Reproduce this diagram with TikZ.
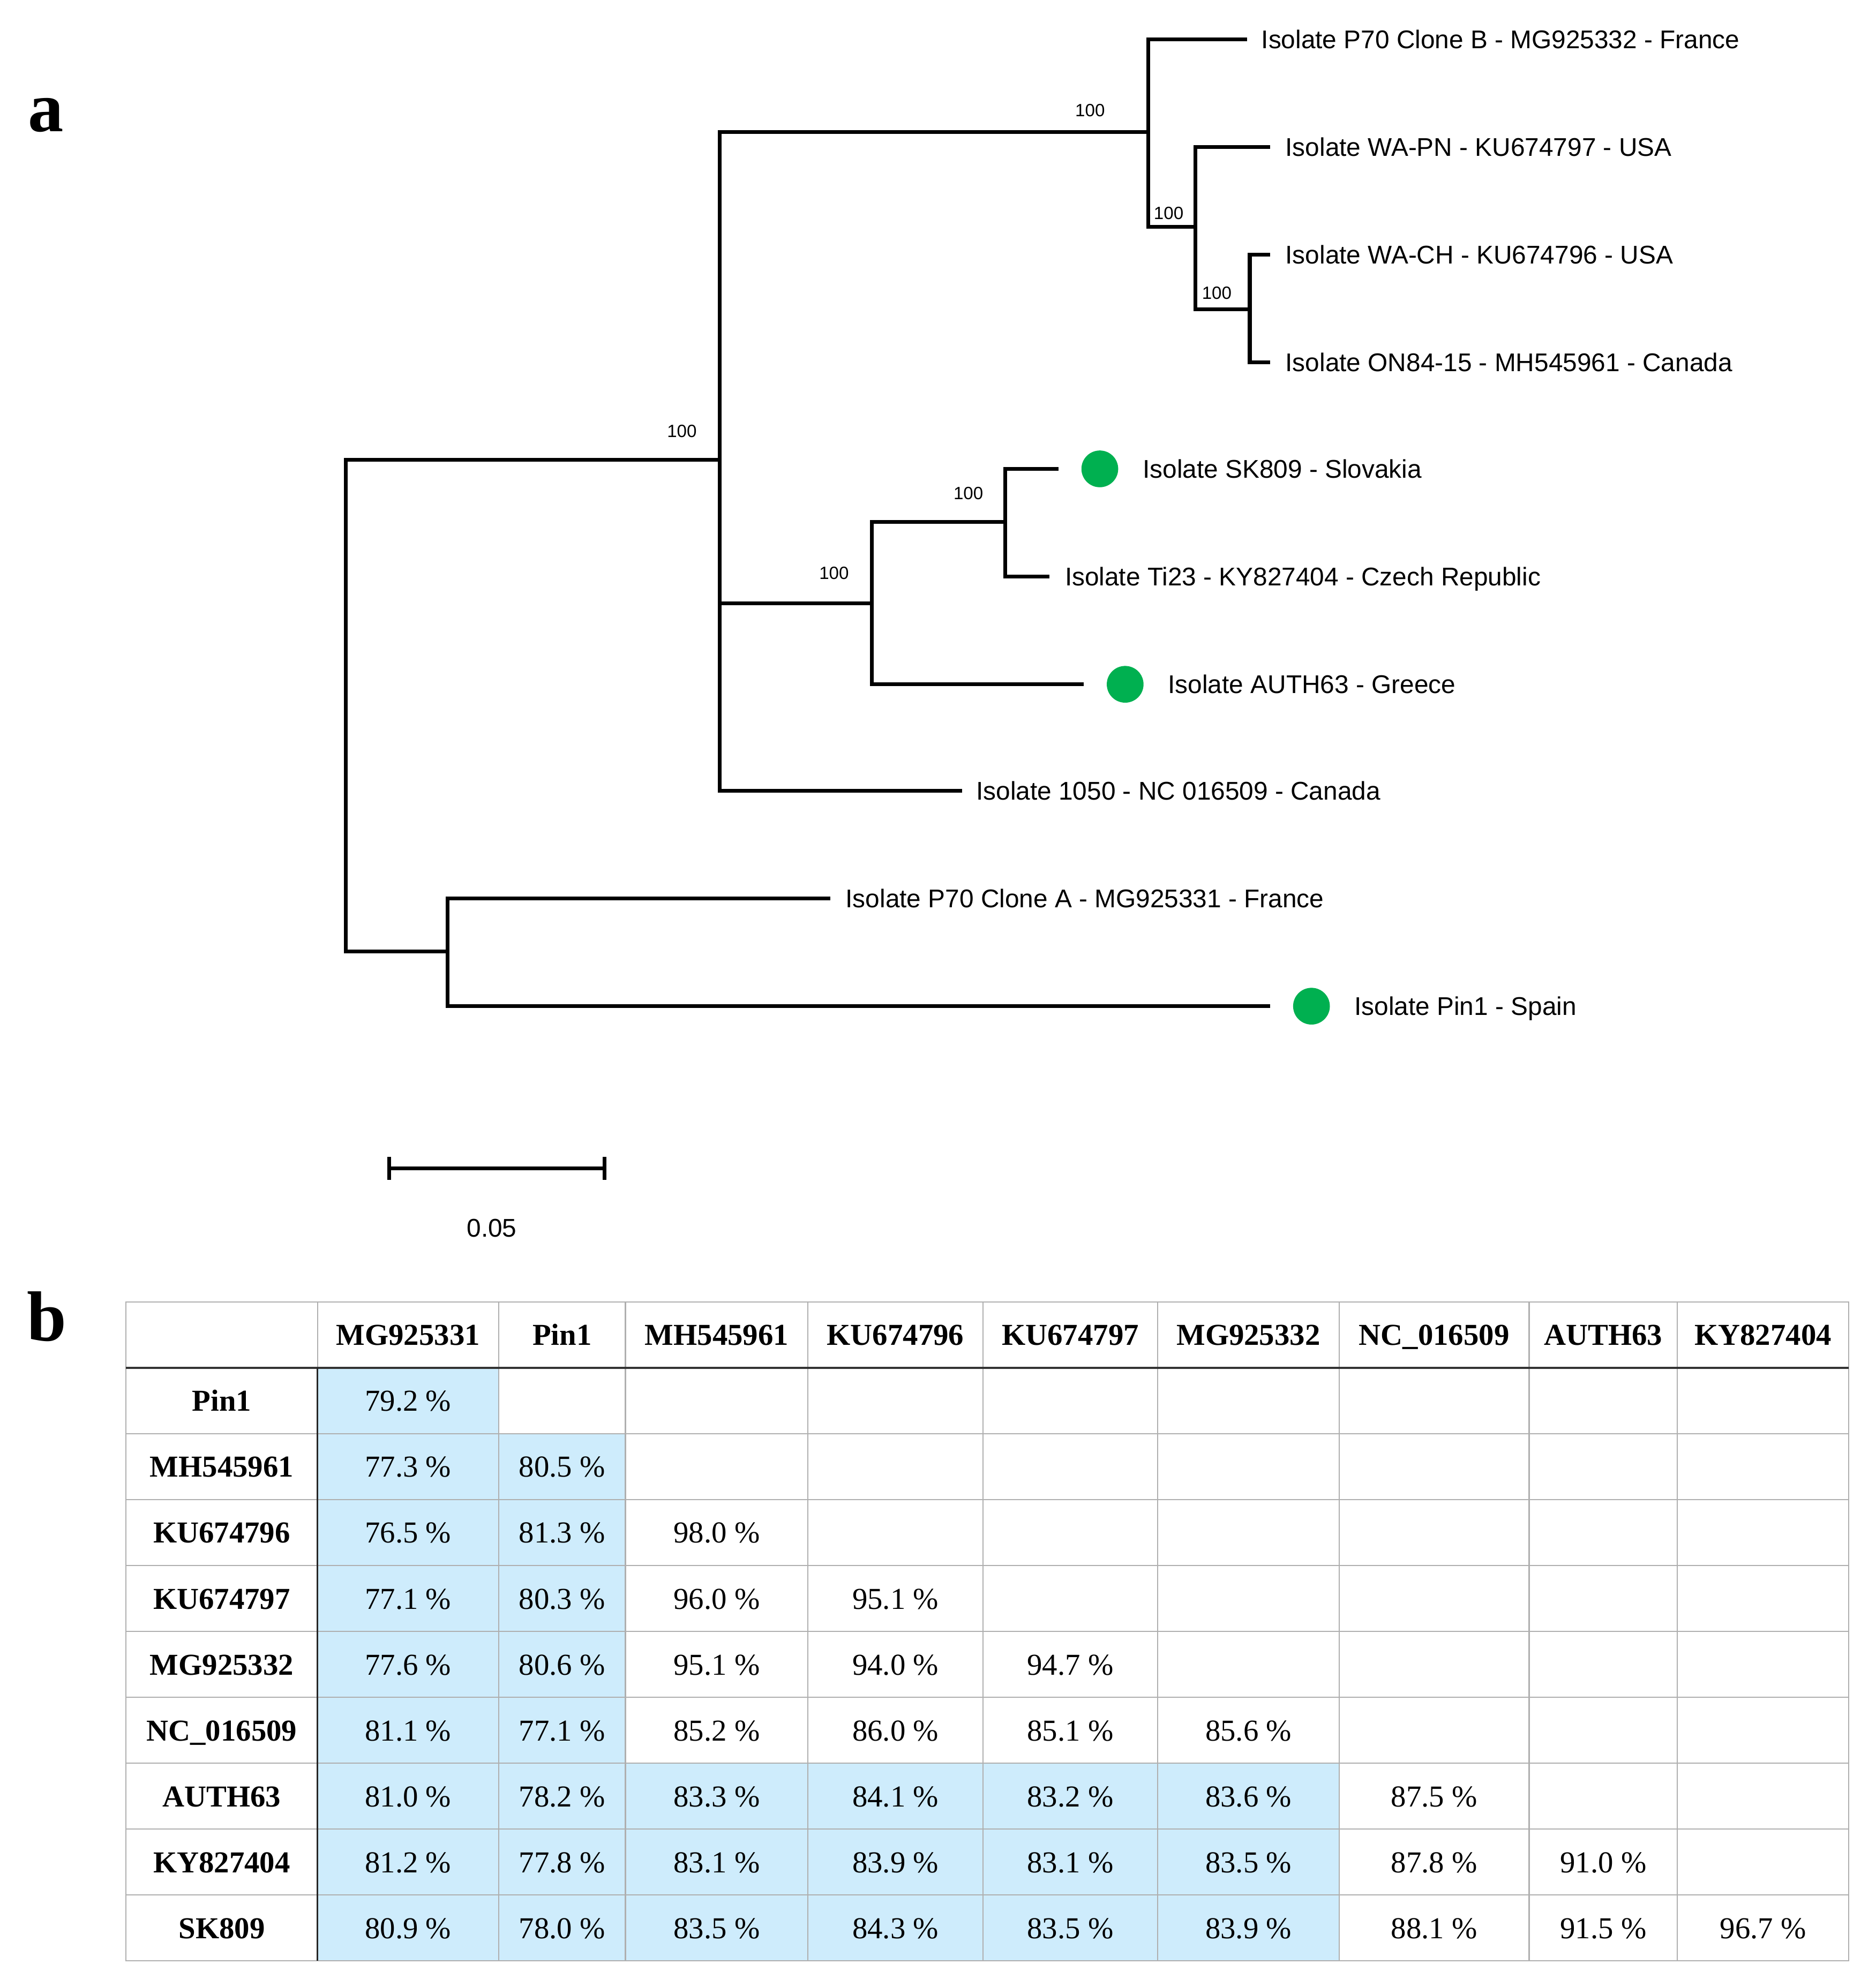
\documentclass[tikz,border=0pt]{standalone}
\usepackage{fontspec}
\setmainfont{Liberation Serif}
\newfontfamily\treefont{Liberation Sans}
\usetikzlibrary{positioning,matrix}
\definecolor{isoGreen}{RGB}{0,176,80}
\definecolor{cellBlue}{RGB}{206,236,252}
\definecolor{gridGray}{RGB}{175,175,175}

\begin{document}
\begin{tikzpicture}[x=1pt,y=-1pt,
	branch/.style={line width=3pt},
	leafLabel/.style={font=\treefont\fontsize{20.2}{24}\selectfont, inner sep=0pt, text height=14.4pt, text depth=0pt},
	bootLabel/.style={font=\treefont\fontsize{14}{16}\selectfont, inner sep=0pt, text height=10pt, text depth=0pt},
	isoDot/.style={shape=circle, fill=isoGreen, inner sep=0pt, minimum size=29pt},
	panelLabel/.style={font=\bfseries\fontsize{56}{60}\selectfont, inner sep=0pt},
	cellBox/.style={shape=rectangle, draw=gridGray, line width=0.9pt, inner sep=0pt, outer sep=0pt,
		minimum height=52pt, text height=16.3pt, text depth=0pt, font=\fontsize{24}{28}\selectfont},
	headFont/.style={font=\bfseries\fontsize{24}{28}\selectfont},
	blueCell/.style={fill=cellBlue},
	headRule/.style={line width=2pt, black!80},
	colRule/.style={line width=1.2pt, black!85}]

\useasboundingbox (0,0) rectangle (1480,1568);

\node[panelLabel] (panelA) at (36,91) {a};
\node[panelLabel] (panelB) at (37,1039) {b};

\coordinate (root) at (273,557);
\coordinate (nA) at (568,363);
\coordinate (nB) at (353,751);
\coordinate (nC) at (906,104);
\coordinate (nD) at (688,476);
\coordinate (nE) at (943,179);
\coordinate (nF) at (986,244);
\coordinate (nG) at (793,412);
\coordinate (tP70B) at (984,31);
\coordinate (tWAPN) at (1002,116);
\coordinate (tWACH) at (1002,201);
\coordinate (tON84) at (1002,286);
\coordinate (tSK) at (835,370);
\coordinate (tTi) at (828,455);
\coordinate (tAUTH) at (855,540);
\coordinate (t1050) at (759,624);
\coordinate (tP70A) at (655,709);
\coordinate (tPin) at (1002,794);

\foreach \p/\c in {root/nA, root/nB, nA/nC, nA/nD, nA/t1050, nC/tP70B, nC/nE, nE/tWAPN, nE/nF,
	nF/tWACH, nF/tON84, nD/nG, nD/tAUTH, nG/tSK, nG/tTi, nB/tP70A, nB/tPin}
	\draw[branch] (\p) |- (\c);

\node[bootLabel] (bsA) at (538,340) {100};
\node[bootLabel] (bsC) at (860,87) {100};
\node[bootLabel] (bsE) at (922,168) {100};
\node[bootLabel] (bsF) at (960,231) {100};
\node[bootLabel] (bsD) at (658,452) {100};
\node[bootLabel] (bsG) at (764,389) {100};

\node[leafLabel, right=11pt of tP70B] (lP70B) {Isolate P70 Clone B - MG925332 - France};
\node[leafLabel, right=12pt of tWAPN] (lWAPN) {Isolate WA-PN - KU674797 - USA};
\node[leafLabel, right=12pt of tWACH] (lWACH) {Isolate WA-CH - KU674796 - USA};
\node[leafLabel, right=12pt of tON84] (lON84) {Isolate ON84-15 - MH545961 - Canada};
\node[isoDot, right=18pt of tSK] (dSK) {};
\node[leafLabel, right=19pt of dSK] (lSK) {Isolate SK809 - Slovakia};
\node[leafLabel, right=12pt of tTi] (lTi) {Isolate Ti23 - KY827404 - Czech Republic};
\node[isoDot, right=18pt of tAUTH] (dAUTH) {};
\node[leafLabel, right=19pt of dAUTH] (lAUTH) {Isolate AUTH63 - Greece};
\node[leafLabel, right=11pt of t1050] (l1050) {Isolate 1050 - NC 016509 - Canada};
\node[leafLabel, right=12pt of tP70A] (lP70A) {Isolate P70 Clone A - MG925331 - France};
\node[isoDot, right=18pt of tPin] (dPin) {};
\node[leafLabel, right=19pt of dPin] (lPin) {Isolate Pin1 - Spain};

\coordinate (sbL) at (307,922);
\coordinate (sbR) at (477,922);
\draw[branch] (sbL) -- (sbR);
\draw[branch] (sbL) ++(0,-9) -- ++(0,18);
\draw[branch] (sbR) ++(0,-9) -- ++(0,18);
\node[leafLabel] (sbText) at (388,969) {0.05};

\matrix[matrix of nodes, nodes in empty cells, anchor=north west, inner sep=0pt, outer sep=0pt,
	column sep=-0.9pt, row sep=-0.9pt, nodes={cellBox},
	row 1/.style={nodes={headFont}},
	column 1/.style={nodes={headFont, minimum width=151pt}},
	column 2/.style={nodes={minimum width=143pt}},
	column 3/.style={nodes={minimum width=100pt}},
	column 4/.style={nodes={minimum width=144pt}},
	column 5/.style={nodes={minimum width=138pt}},
	column 6/.style={nodes={minimum width=138pt}},
	column 7/.style={nodes={minimum width=143pt}},
	column 8/.style={nodes={minimum width=150pt}},
	column 9/.style={nodes={minimum width=117pt}},
	column 10/.style={nodes={minimum width=135pt}}] (simTab) at (99,1027) {
  & MG925331 & Pin1 & MH545961 & KU674796 & KU674797 & MG925332 & NC\_016509 & AUTH63 & KY827404 \\
Pin1 & |[blueCell]| 79.2 \% & & & & & & & & \\
MH545961 & |[blueCell]| 77.3 \% & |[blueCell]| 80.5 \% & & & & & & & \\
KU674796 & |[blueCell]| 76.5 \% & |[blueCell]| 81.3 \% & 98.0 \% & & & & & & \\
KU674797 & |[blueCell]| 77.1 \% & |[blueCell]| 80.3 \% & 96.0 \% & 95.1 \% & & & & & \\
MG925332 & |[blueCell]| 77.6 \% & |[blueCell]| 80.6 \% & 95.1 \% & 94.0 \% & 94.7 \% & & & & \\
NC\_016509 & |[blueCell]| 81.1 \% & |[blueCell]| 77.1 \% & 85.2 \% & 86.0 \% & 85.1 \% & 85.6 \% & & & \\
AUTH63 & |[blueCell]| 81.0 \% & |[blueCell]| 78.2 \% & |[blueCell]| 83.3 \% & |[blueCell]| 84.1 \% & |[blueCell]| 83.2 \% & |[blueCell]| 83.6 \% & 87.5 \% & & \\
KY827404 & |[blueCell]| 81.2 \% & |[blueCell]| 77.8 \% & |[blueCell]| 83.1 \% & |[blueCell]| 83.9 \% & |[blueCell]| 83.1 \% & |[blueCell]| 83.5 \% & 87.8 \% & 91.0 \% & \\
SK809 & |[blueCell]| 80.9 \% & |[blueCell]| 78.0 \% & |[blueCell]| 83.5 \% & |[blueCell]| 84.3 \% & |[blueCell]| 83.5 \% & |[blueCell]| 83.9 \% & 88.1 \% & 91.5 \% & 96.7 \% \\
};

\draw[headRule] (simTab-1-1.south west) -- (simTab-1-10.south east);
\draw[colRule] (simTab-2-1.north east) -- (simTab-10-1.south east);

\end{tikzpicture}
\end{document}
